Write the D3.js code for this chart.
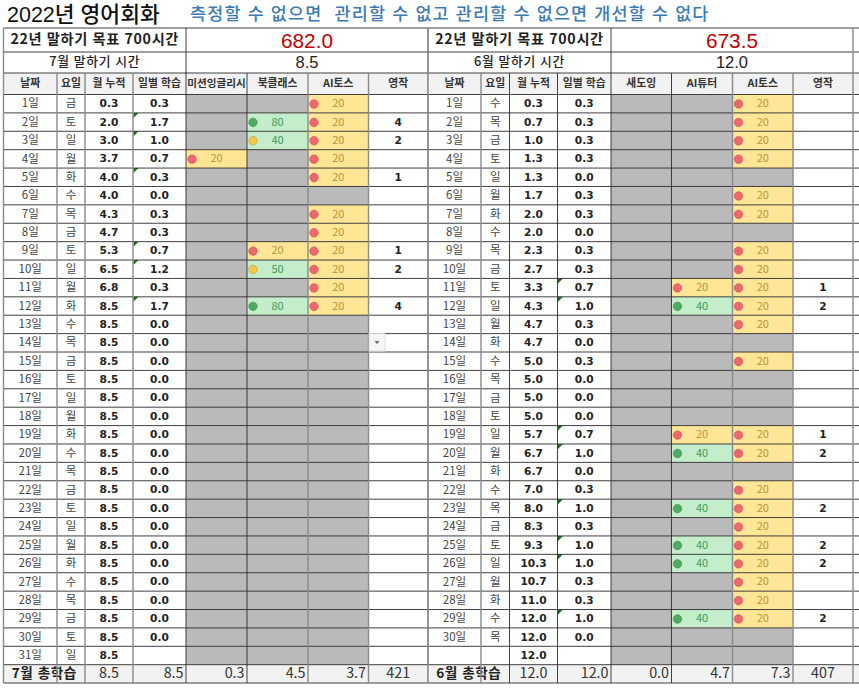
<!DOCTYPE html>
<html lang="ko">
<head>
<meta charset="UTF-8">
<title>2022년 영어회화</title>
<script src="https://d3js.org/d3.v7.min.js"></script>
<style>
  html, body { margin: 0; padding: 0; background: #fff; }
  svg { display: block; }
  text { font-family: "Noto Sans CJK KR", sans-serif; }
  .big { font-family: "Liberation Sans", "Noto Sans CJK KR", sans-serif; }
  .num { font-family: "DejaVu Sans", "Noto Sans CJK KR", sans-serif; font-weight: 700; fill: #222; font-size: 10.6px; }
  .day { font-family: "Noto Sans CJK KR", sans-serif; fill: #444; font-size: 11.5px; }
</style>
</head>
<body>
<div id="chart"></div>
<script>
const _ = null;

const titleText = "2022년 영어회화";
const mottoText = "측정할 수 없으면  관리할 수 없고 관리할 수 없으면 개선할 수 없다";
const goalText = "22년 말하기 목표 700시간";

// 7월
const julyDays = d3.range(1, 32).map(d => d + "일");
const julyWeekdays = ["금","토","일","월","화","수","목","금","토","일","월","화","수","목","금","토","일","월","화","수","목","금","토","일","월","화","수","목","금","토","일"];
const julyCumulative = [0.3,2.0,3.0,3.7,4.0,4.0,4.3,4.7,5.3,6.5,6.8,8.5,8.5,8.5,8.5,8.5,8.5,8.5,8.5,8.5,8.5,8.5,8.5,8.5,8.5,8.5,8.5,8.5,8.5,8.5,8.5];
const julyDaily = [0.3,1.7,1.0,0.7,0.3,0.0,0.3,0.3,0.7,1.2,0.3,1.7,0.0,0.0,0.0,0.0,0.0,0.0,0.0,0.0,0.0,0.0,0.0,0.0,0.0,0.0,0.0,0.0,0.0,0.0,_];
const julyMission = [_,_,_,20,_,_,_,_,_,_,_,_,_,_,_,_,_,_,_,_,_,_,_,_,_,_,_,_,_,_,_];
const julyBookClub = [_,80,40,_,_,_,_,_,20,50,_,80,_,_,_,_,_,_,_,_,_,_,_,_,_,_,_,_,_,_,_];
const julyAiToss = [20,20,20,20,20,_,20,20,20,20,20,20,_,_,_,_,_,_,_,_,_,_,_,_,_,_,_,_,_,_,_];
const julyWriting = [_,4,2,_,1,_,_,_,1,2,_,4,_,_,_,_,_,_,_,_,_,_,_,_,_,_,_,_,_,_,_];
const julyNotes = [2,3,5,9,10,12];
const julyHeaders = ["날짜","요일","월 누적","일별 학습","미션잉글리시","북클래스","AI토스","영작"];
const julyTotals = [8.5,8.5,0.3,4.5,3.7,421];

// 6월
const juneDays = d3.range(1, 31).map(d => d + "일").concat([""]);
const juneWeekdays = ["수","목","금","토","일","월","화","수","목","금","토","일","월","화","수","목","금","토","일","월","화","수","목","금","토","일","월","화","수","목",""];
const juneCumulative = [0.3,0.7,1.0,1.3,1.3,1.7,2.0,2.0,2.3,2.7,3.3,4.3,4.7,4.7,5.0,5.0,5.0,5.0,5.7,6.7,6.7,7.0,8.0,8.3,9.3,10.3,10.7,11.0,12.0,12.0,12.0];
const juneDaily = [0.3,0.3,0.3,0.3,0.0,0.3,0.3,0.0,0.3,0.3,0.7,1.0,0.3,0.0,0.3,0.0,0.0,0.0,0.7,1.0,0.0,0.3,1.0,0.3,1.0,1.0,0.3,0.3,1.0,0.0,_];
const juneShadowing = [_,_,_,_,_,_,_,_,_,_,_,_,_,_,_,_,_,_,_,_,_,_,_,_,_,_,_,_,_,_,_];
const juneAiTutor = [_,_,_,_,_,_,_,_,_,_,20,40,_,_,_,_,_,_,20,40,_,_,40,_,40,40,_,_,40,_,_];
const juneAiToss = [20,20,20,20,_,20,20,_,20,20,20,20,20,_,20,_,_,_,20,20,_,20,20,20,20,20,20,20,20,_,_];
const juneWriting = [_,_,_,_,_,_,_,_,_,_,1,2,_,_,_,_,_,_,1,2,_,_,2,_,2,2,_,_,2,_,_];
const juneNotes = [11,12,19,20,23,25,26,29];
const juneHeaders = ["날짜","요일","월 누적","일별 학습","새도잉","AI튜터","AI토스","영작"];
const juneTotals = [12.0,12.0,0.0,4.7,7.3,407];

const width = 859, height = 693;
const f1 = d3.format(".1f");

const svg = d3.select("#chart").append("svg")
  .attr("width", width).attr("height", height);

// 행 위치
const topY = 28, goalBottom = 52, monthBottom = 73, headBottom = 94.5, rowsBottom = 664.7, tableBottom = 683;
const rowScale = d3.scaleBand().domain(d3.range(31)).range([headBottom, rowsBottom]);

// 칸 채우기, 아이콘 색 (엑셀 3색 아이콘 규칙: 열 범위의 33%, 67%)
const cellFill = d3.scaleThreshold().domain([40]).range(["#ffe596", "#c4eecb"]);
const cellInk = d3.scaleThreshold().domain([40]).range(["#b8923a", "#3f9a55"]);
const iconColor = d3.scaleThreshold().domain([0.33, 0.67]).range(["#f0686e", "#f7c948", "#4fab62"]);

function drawTable(g, t) {
  const xs = t.xs;
  const left = xs[0], right = t.rightEdge;
  const rb = rowScale.bandwidth();

  g.append("rect").attr("x", left).attr("y", monthBottom).attr("width", right - left)
    .attr("height", headBottom - monthBottom).attr("fill", "#f2f2f2");
  g.append("rect").attr("x", left).attr("y", rowsBottom).attr("width", right - left)
    .attr("height", tableBottom - rowsBottom).attr("fill", "#f2f2f2");

  // 학습 칸
  t.columns.forEach((col, ci) => {
    const x0 = xs[ci + 4], x1 = xs[ci + 5];
    const present = col.filter(v => v !== null);
    const ext = d3.extent(present);
    const iconPos = d3.scaleLinear().domain(ext[0] === ext[1] ? [ext[0], ext[0] + 1] : ext).range([0, 1]);

    g.selectAll(null).data(col).enter().append("rect")
      .attr("x", x0).attr("y", (d, i) => rowScale(i))
      .attr("width", x1 - x0).attr("height", rb)
      .attr("fill", d => d === null ? "#bababa" : cellFill(d));

    const filled = col.map((v, i) => ({ v, i })).filter(d => d.v !== null);
    g.selectAll(null).data(filled).enter().append("circle")
      .attr("cx", x0 + 6).attr("cy", d => rowScale(d.i) + rb / 2 + 0.3).attr("r", 4.2)
      .attr("fill", d => iconColor(iconPos(d.v)))
      .attr("stroke", d => d3.color(iconColor(iconPos(d.v))).darker(0.8))
      .attr("stroke-width", 0.6);
    g.selectAll(null).data(filled).enter().append("text")
      .attr("x", (x0 + x1) / 2).attr("y", d => rowScale(d.i) + rb / 2 + 0.5)
      .attr("text-anchor", "middle").attr("dominant-baseline", "middle")
      .attr("font-size", 11).attr("fill", d => cellInk(d.v)).text(d => d.v);
  });

  // 날짜, 요일, 누적, 일별
  const textCol = (vals, ci, cls, fmt) => g.selectAll(null).data(vals).enter().append("text")
    .attr("class", cls)
    .attr("x", (xs[ci] + xs[ci + 1]) / 2)
    .attr("y", (d, i) => rowScale(i) + rb / 2 + 0.5)
    .attr("text-anchor", "middle").attr("dominant-baseline", "middle")
    .text(d => d === null ? "" : fmt(d));

  textCol(t.days, 0, "day", d => d);
  textCol(t.weekdays, 1, "day", d => d);
  textCol(t.cumulative, 2, "num", f1);
  textCol(t.daily, 3, "num", f1);
  textCol(t.writing, 7, "num", d => d);

  // 메모 삼각형
  g.selectAll(null).data(t.notes).enter().append("path")
    .attr("d", d => {
      const x = xs[3] + 0.5, y = rowScale(d - 1);
      return d3.line()([[x, y], [x + 5, y], [x, y + 5]]) + "Z";
    })
    .attr("fill", "#1e6e22");

  // 머리글
  g.selectAll(null).data(t.headers).enter().append("text")
    .attr("x", (d, i) => (xs[i] + xs[i + 1]) / 2)
    .attr("y", (monthBottom + headBottom) / 2 + 0.5)
    .attr("text-anchor", "middle").attr("dominant-baseline", "middle")
    .attr("font-size", (d, i) => d.length > 5 ? 10.6 : 10.8).attr("font-weight", 700).attr("fill", "#333")
    .text(d => d);

  // 윗부분
  const midX = xs[4];
  g.append("text").attr("x", (left + midX) / 2).attr("y", (topY + goalBottom) / 2 + 0.5)
    .attr("text-anchor", "middle").attr("dominant-baseline", "middle")
    .attr("font-size", 14.2).attr("font-weight", 700).attr("fill", "#222").attr("letter-spacing", 0.65).text(goalText);
  g.append("text").attr("class", "big").attr("x", (midX + xs[8]) / 2).attr("y", 48)
    .attr("text-anchor", "middle")
    .attr("font-size", 20.8).attr("fill", "#c00000").text(f1(t.goalValue));
  g.append("text").attr("x", (left + midX) / 2).attr("y", (goalBottom + monthBottom) / 2 + 0.5)
    .attr("text-anchor", "middle").attr("dominant-baseline", "middle")
    .attr("font-size", 12.8).attr("font-weight", 500).attr("fill", "#222").attr("letter-spacing", 0.65).text(t.monthLabel);
  g.append("text").attr("class", "big").attr("x", (midX + xs[8]) / 2).attr("y", 68.3)
    .attr("text-anchor", "middle")
    .attr("font-size", 16.5).attr("fill", "#222").text(f1(t.monthValue));

  // 총학습 줄
  const footY = (rowsBottom + tableBottom) / 2 + 0.5;
  g.append("text").attr("x", (xs[0] + xs[2]) / 2).attr("y", footY)
    .attr("text-anchor", "middle").attr("dominant-baseline", "middle")
    .attr("font-size", 13.6).attr("font-weight", 700).attr("fill", "#222").attr("letter-spacing", 0.5).text(t.totalLabel);
  g.selectAll(null).data(t.totals).enter().append("text")
    .attr("x", (d, i) => (i === 0 || i === 5) ? (xs[i + 2] + xs[i + 3]) / 2 : xs[i + 3] - 2.5)
    .attr("y", footY)
    .attr("text-anchor", (d, i) => (i === 0 || i === 5) ? "middle" : "end")
    .attr("dominant-baseline", "middle")
    .attr("font-size", 14.3).attr("fill", "#333")
    .text((d, i) => i === 5 ? d : f1(d));

  // 가로선
  const hLines = [topY, goalBottom, monthBottom].concat(d3.range(31).map(i => rowScale(i)), [rowsBottom, tableBottom]);
  g.selectAll(null).data(hLines).enter().append("line")
    .attr("x1", left).attr("x2", right).attr("y1", d => d).attr("y2", d => d)
    .attr("stroke", "#2b2b2b").attr("stroke-width", 0.9);

  // 세로선
  const vSpec = t.vStyle;
  xs.forEach((x, i) => {
    const y0 = (i === 0 || i === 4 || i === 8) ? topY : monthBottom;
    g.append("line").attr("x1", x).attr("x2", x).attr("y1", y0).attr("y2", tableBottom)
      .attr("stroke", vSpec[i] ? "#8a8a8a" : "#2b2b2b").attr("stroke-width", vSpec[i] ? 1.4 : 0.9);
  });
}

// 제목
svg.append("text").attr("class", "big").attr("x", 7).attr("y", 22).attr("font-size", 21.5).attr("font-weight", 500)
  .attr("fill", "#111").text(titleText);
svg.append("text").attr("class", "big").attr("x", 190).attr("y", 20).attr("font-size", 17.4).attr("font-weight", 500)
  .attr("fill", "#3a7ab8").attr("letter-spacing", 1.2)
  .style("white-space", "pre").text(mottoText);

drawTable(svg.append("g"), {
  xs: [3.5, 57, 85, 133, 186, 247, 308, 368.5, 428],
  rightEdge: 428,
  vStyle: [1, 1, 1, 1, 0, 0, 1, 1, 1],
  days: julyDays, weekdays: julyWeekdays, cumulative: julyCumulative, daily: julyDaily,
  columns: [julyMission, julyBookClub, julyAiToss], writing: julyWriting,
  notes: julyNotes, headers: julyHeaders, totals: julyTotals,
  goalValue: 682.0, monthValue: 8.5, monthLabel: "7월 말하기 시간", totalLabel: "7월 총학습"
});

drawTable(svg.append("g"), {
  xs: [428, 481, 509.5, 557.5, 611, 671.5, 732.5, 793, 853],
  rightEdge: 859,
  vStyle: [1, 1, 0, 0, 0, 0, 1, 1, 1],
  days: juneDays, weekdays: juneWeekdays, cumulative: juneCumulative, daily: juneDaily,
  columns: [juneShadowing, juneAiTutor, juneAiToss], writing: juneWriting,
  notes: juneNotes, headers: juneHeaders, totals: juneTotals,
  goalValue: 673.5, monthValue: 12.0, monthLabel: "6월 말하기 시간", totalLabel: "6월 총학습"
});

// 14일 영작 칸 드롭다운 단추
const dropY = rowScale(13);
svg.append("rect").attr("x", 369).attr("y", dropY).attr("width", 16).attr("height", 17.5)
  .attr("fill", "#f4f5f7").attr("stroke", "#d4d6da").attr("stroke-width", 0.8);
svg.append("path")
  .attr("d", d3.line()([[374.5, dropY + 7.5], [379.5, dropY + 7.5], [377, dropY + 10.5]]) + "Z")
  .attr("fill", "#666");
</script>
</body>
</html>
